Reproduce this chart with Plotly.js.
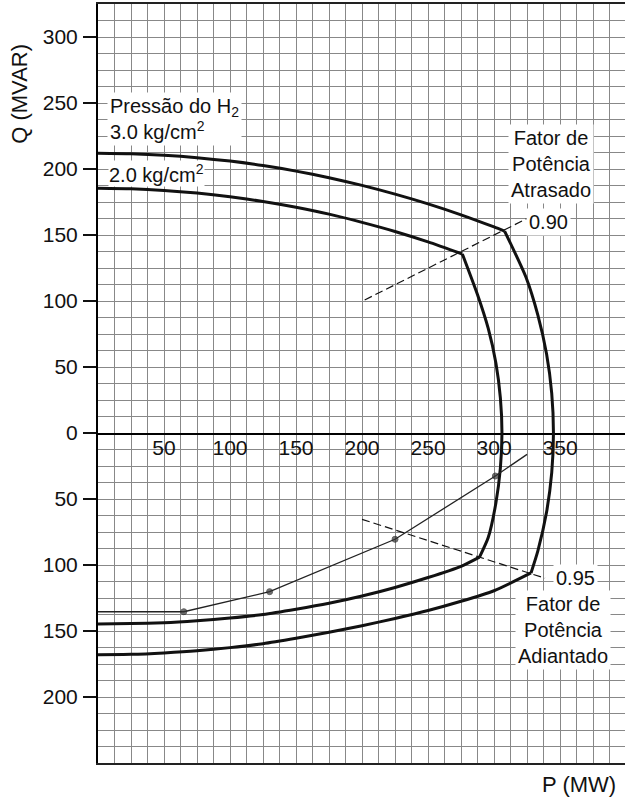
<!DOCTYPE html>
<html><head><meta charset="utf-8">
<script src="https://cdn.plot.ly/plotly-3.0.1.min.js"></script>
<style>body{margin:0;background:#fff}</style>
</head><body><div id="chart" style="width:625px;height:798px"></div>
<script>
// Capability curve, H2 pressure 3.0 kg/cm2 (outer)
const outerTopP = [0, 25, 50, 75, 100, 125, 150, 175, 200, 225, 250, 275, 300, 308];
const outerTopQ = [212, 211.6, 210.5, 208.6, 206, 202.6, 198.4, 193.4, 187.6, 181, 173.6, 165.3, 156.1, 153];
const outerArcP = [308, 324.2, 333.2, 339.8, 343.7, 345, 343.7, 339.8, 333.2, 328];
const outerArcQ = [153, 118, 89.3, 59.9, 30.1, 0, -30.1, -59.9, -89.3, -106];
const outerBotP = [0, 25, 50, 75, 100, 125, 150, 175, 200, 225, 250, 275, 300, 328];
const outerBotQ = [-168, -167.7, -166.6, -165, -162.6, -159.6, -155.5, -151, -146, -140.5, -134.5, -127.5, -119.5, -106];
// H2 pressure 2.0 kg/cm2 (inner)
const innerTopP = [0, 25, 50, 75, 100, 125, 150, 175, 200, 225, 250, 276];
const innerTopQ = [185.4, 185, 183.8, 181.8, 179, 175.4, 171, 165.8, 159.6, 152.7, 144.8, 135.6];
const innerArcP = [276, 287.5, 295.6, 301.4, 304.8, 306, 304.8, 301.4, 295.6, 289];
const innerArcQ = [135.6, 104.7, 79.2, 53.1, 26.7, 0, -26.7, -53.1, -79.2, -94];
const innerBotP = [0, 25, 50, 75, 100, 125, 150, 175, 200, 225, 250, 275, 289];
const innerBotQ = [-144.7, -144.4, -143.7, -142.2, -140.2, -137.5, -133.5, -129, -123.5, -117, -109.5, -101, -94];
// thin limit line with dots
const limitP = [0, 65, 130, 225, 301, 325];
const limitQ = [-135.4, -135.4, -120.2, -80.5, -32.6, -16.2];
const limitDot = [0, 1, 1, 1, 1, 0];
// power factor lines
const pf90P = [202, 326];
const pf90Q = [100.8, 163];
const pf95P = [200, 338.6];
const pf95Q = [-65.4, -110];
// ticks
const yTickVals = [-200, -150, -100, -50, 0, 50, 100, 150, 200, 250, 300];
const yTickText = ['200', '150', '100', '50', '0', '50', '100', '150', '200', '250', '300'];
const xTickVals = [50, 100, 150, 200, 250, 300, 350];
const xTickText = ['50', '100', '150', '200', '250', '300', '350'];

const FONT = 'Arial, "Liberation Sans", sans-serif';
const thick = {color: '#111', width: 3, shape: 'spline', smoothing: 0.6};
function curve(x, y) { return {x: x, y: y, mode: 'lines', line: thick, hoverinfo: 'skip'}; }

const traces = [
  // invisible anchors so the overlay axes get drawn
  {x: [xTickVals[0]], y: [yTickVals[4]], xaxis: 'x2', yaxis: 'y', mode: 'markers', marker: {opacity: 0}, hoverinfo: 'skip'},
  {x: [xTickVals[0]], y: [yTickVals[4]], xaxis: 'x', yaxis: 'y2', mode: 'markers', marker: {opacity: 0}, hoverinfo: 'skip'},
  curve(outerTopP, outerTopQ), curve(outerArcP, outerArcQ), curve(outerBotP, outerBotQ),
  curve(innerTopP, innerTopQ), curve(innerArcP, innerArcQ), curve(innerBotP, innerBotQ),
  {x: limitP, y: limitQ, mode: 'lines+markers', line: {color: '#222', width: 1.3},
   marker: {color: '#333', size: limitDot.map(d => d ? 6 : 0)}, hoverinfo: 'skip'},
  {x: pf90P, y: pf90Q, mode: 'lines', line: {color: '#111', width: 1.2, dash: '8px,4px'}, hoverinfo: 'skip'},
  {x: pf95P, y: pf95Q, mode: 'lines', line: {color: '#111', width: 1.2, dash: '8px,4px'}, hoverinfo: 'skip'}
];

const xr = [0, 399.2], yr = [-250, 325];
const ann = (t, x, y, xa, al, pad) => ({text: t, x: x, y: y, xref: 'x', yref: 'y', xanchor: xa, yanchor: 'middle',
  align: al, showarrow: false, bgcolor: '#fff', borderpad: pad, font: {family: FONT, size: 20, color: '#111'}});

const layout = {
  width: 625, height: 798,
  margin: {l: 98, r: 0, t: 4, b: 35},
  paper_bgcolor: '#fff', plot_bgcolor: '#fff',
  showlegend: false,
  font: {family: FONT, size: 20, color: '#111'},
  xaxis: {range: xr, tick0: 0, dtick: 12.5, showticklabels: false, ticks: '', showgrid: true,
    gridcolor: '#888', gridwidth: 1, zeroline: false, showline: true, mirror: true,
    linecolor: '#222', linewidth: 2, fixedrange: true},
  yaxis: {range: yr, tick0: 0, dtick: 12.5, showticklabels: false, ticks: '', showgrid: true,
    gridcolor: '#888', gridwidth: 1, zeroline: false, showline: false, fixedrange: true},
  yaxis2: {range: yr, overlaying: 'y', side: 'left', anchor: 'x', tickmode: 'array',
    tickvals: yTickVals, ticktext: yTickText, ticks: 'outside', ticklen: 13, tickwidth: 1.3,
    tickcolor: '#111', showgrid: false, zeroline: false, showline: true, linecolor: '#000', linewidth: 2,
    tickfont: {family: FONT, size: 21, color: '#111'}, ticklabelstandoff: 1},
  xaxis2: {range: xr, overlaying: 'x', anchor: 'free', position: 250 / 575, side: 'bottom',
    tickmode: 'array', tickvals: xTickVals, ticktext: xTickText, ticks: '', showgrid: false,
    zeroline: false, showline: true, linecolor: '#000', linewidth: 1.5, layer: 'below traces',
    ticklabelstandoff: -5, tickfont: {family: FONT, size: 21, color: '#111'}},
  annotations: [
    ann('Pressão do H<sub>2</sub><br>3.0 kg/cm<sup>2</sup>', 6.8, 238, 'left', 'left', 2),
    ann('2.0 kg/cm<sup>2</sup>', 7.5, 196.5, 'left', 'left', 0),
    ann('Fator de<br>Potência<br>Atrasado', 343, 204, 'center', 'center', 2),
    ann('0.90', 341, 160, 'center', 'center', 2),
    ann('0.95', 362, -110, 'center', 'center', 2),
    ann('Fator de<br>Potência<br>Adiantado', 352, -149, 'center', 'center', 2),
    {text: 'Q (MVAR)', xref: 'paper', yref: 'y', x: -0.148, y: 257, textangle: -90, showarrow: false,
     xanchor: 'center', yanchor: 'middle', font: {family: FONT, size: 22, color: '#111'}},
    {text: 'P (MW)', xref: 'paper', yref: 'paper', x: 0.9867, y: -0.0277, showarrow: false,
     xanchor: 'right', yanchor: 'middle', font: {family: FONT, size: 22, color: '#111'}}
  ]
};
Plotly.newPlot('chart', traces, layout, {displayModeBar: false, staticPlot: true});
</script></body></html>
